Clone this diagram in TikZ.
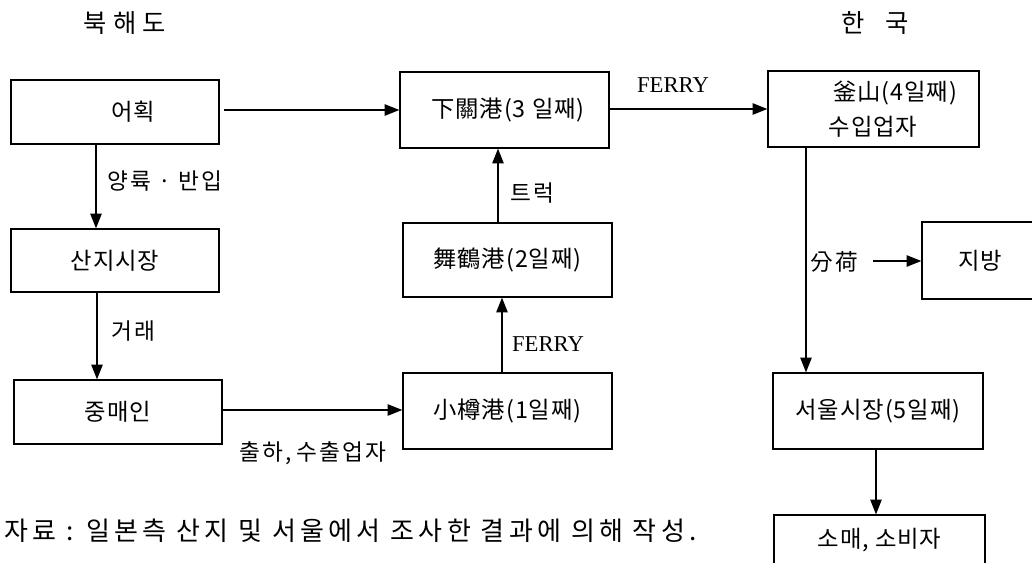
\documentclass[tikz,border=0pt]{standalone}
\usepackage{fontspec}
\setmainfont{Liberation Serif}
\newfontfamily\kr[LetterSpace=4]{Noto Sans CJK KR}
\newfontfamily\krlab[LetterSpace=10]{Noto Sans CJK KR}
\newfontfamily\krtitle[LetterSpace=25]{Noto Sans CJK KR}
\newfontfamily\krfoot[LetterSpace=16]{Noto Sans CJK KR}
\usetikzlibrary{arrows.meta,calc}
\begin{document}
\begin{tikzpicture}[x=0.75pt,y=-0.75pt,
  box/.style={draw,line width=0.9pt,inner sep=0pt,font=\kr\fontsize{17.5pt}{20pt}\selectfont},
  sz/.style 2 args={minimum width=#1*0.75pt,minimum height=#2*0.75pt},
  txt/.style={inner sep=0pt,font=\kr\fontsize{17.5pt}{20pt}\selectfont},
  lbl/.style={inner sep=0pt,font=\krlab\fontsize{17pt}{20pt}\selectfont},
  fer/.style={inner sep=0pt,font=\fontsize{17pt}{20pt}\selectfont},
  arr/.style={line width=0.9pt,-{Triangle[length=11pt,width=8.5pt]}}]
\useasboundingbox (0,0) rectangle (1032,563);
\clip (0,0) rectangle (1032,563);
% titles
\node[inner sep=0pt,font=\krtitle\fontsize{19pt}{22pt}\selectfont] (tjp) at (125,23) {북해도};
\node[inner sep=0pt,font=\krtitle\fontsize{19pt}{22pt}\selectfont] (tkr) at (875,23) {한\hspace{16pt}국};
% boxes
\node[box,sz={208}{64}] (catch) at (115,112) {};
\node[txt] (catchT) at (133,112) {어획};
\node[box,sz={208}{63}] (sanji) at (115,260.5) {산지시장};
\node[box,sz={208}{64}] (broker) at (118,412) {중매인};
\node[box,sz={209}{76}] (shimo) at (504.5,110) {};
\node[txt] (shimoT) at (508,110) {下關港(3 일째)};
\node[box,sz={209}{74}] (maizuru) at (507.5,260) {舞鶴港(2일째)};
\node[box,sz={209}{76}] (otaru) at (507.5,411) {小樽港(1일째)};
\node[box,sz={211}{76}] (busan) at (873.5,109) {};
\node[txt] (busanT1) at (895,93) {釜山(4일째)};
\node[txt] (busanT2) at (873,127) {수입업자};
\node[box,sz={116}{77}] (jibang) at (980,260.5) {지방};
\node[box,sz={210}{76}] (seoul) at (878,411) {서울시장(5일째)};
\node[box,sz={211}{50}] (retail) at (879.5,540) {소매, 소비자};
% edge labels
\node[lbl] (l1) at (165,181) {양륙 · 반입};
\node[lbl] (l2) at (133,331) {거래};
\node[lbl] (l3) at (313,453) {출하,\hspace{3pt}수출업자};
\node[lbl] (l4) at (532,193) {트럭};
\node[fer] (l5) at (548,344) {FERRY};
\node[fer] (l6) at (673,85) {FERRY};
\node[lbl] (bunka) at (834,262) {分荷};
\coordinate (bk) at (873,261);
% connectors
\draw[arr] (224,0 |- shimo.west) -- (shimo.west);
\draw[arr] (96,0 |- catch.south) -- (96,0 |- sanji.north);
\draw[arr] (97,0 |- sanji.south) -- (97,0 |- broker.north);
\draw[arr] (broker.east |- 0,410) -- (otaru.west |- 0,410);
\draw[arr] (502,0 |- otaru.north) -- (502,0 |- maizuru.south);
\draw[arr] (498,0 |- maizuru.north) -- (498,0 |- shimo.south);
\draw[arr] (shimo.east |- 0,109) -- (busan.west |- 0,109);
\draw[arr] (806,0 |- busan.south) -- (806,0 |- seoul.north);
\draw[arr] (bk) -- (jibang.west |- bk);
\draw[arr] (876,0 |- seoul.south) -- (876,0 |- retail.north);
% footnote
\node[inner sep=0pt,anchor=west,font=\krfoot\fontsize{19.5pt}{23pt}\selectfont] (src) at (4,531) {자료 : 일본측 산지 및 서울에서 조사한 결과에 의해 작성.};
\end{tikzpicture}
\end{document}
